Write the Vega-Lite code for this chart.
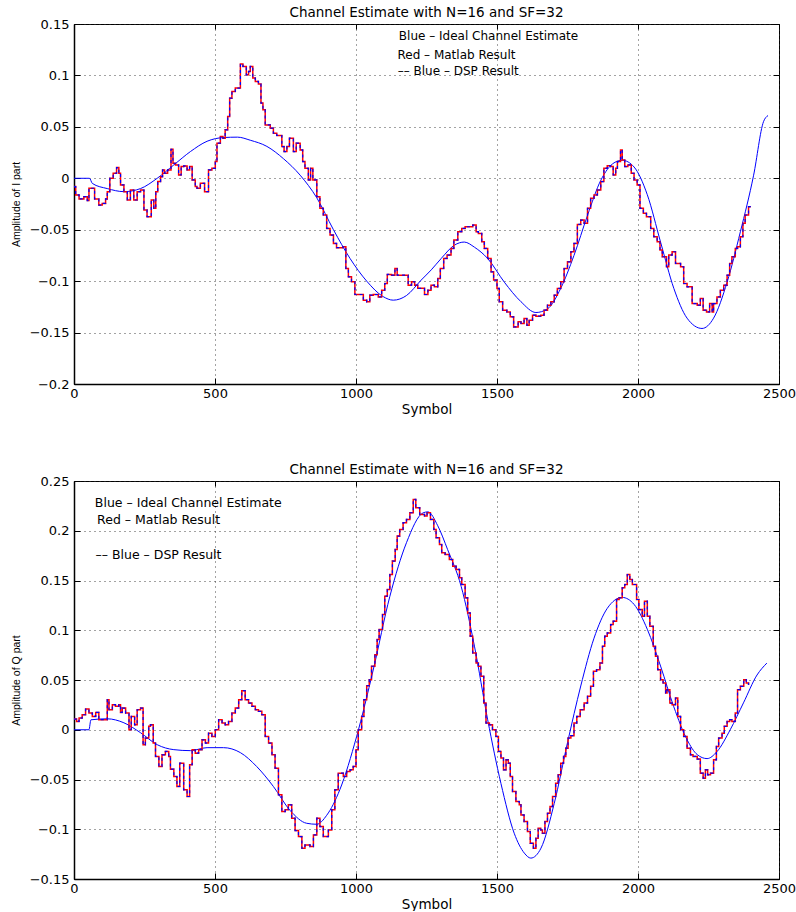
{
"$schema": "https://vega.github.io/schema/vega-lite/v6.json",
"autosize": {"type": "pad"},
"padding": {"left": 10, "top": 5, "right": 2, "bottom": 0},
"spacing": 97,
"bounds": "flush",
"config": {
  "font": "DejaVu Sans",
  "view": {"stroke": "black", "strokeWidth": 1},
  "axis": {"labelColor": "black", "titleColor": "black", "labelFontSize": 13, "labelFlush": false, "labelOverlap": false, "domainColor": "black", "tickColor": "black", "titleFontWeight": "normal"},
  "title": {"fontSize": 13.5, "fontWeight": "normal", "color": "black", "offset": -1}
},
"datasets": {
"topIdeal": [{"x":0,"y":0},{"x":55,"y":0},{"x":65,"y":-0.005},{"x":118,"y":-0.01},{"x":177,"y":-0.013},{"x":236,"y":-0.01},{"x":295,"y":0},{"x":354,"y":0.013},{"x":413,"y":0.026},{"x":472,"y":0.036},{"x":530,"y":0.0396},{"x":580,"y":0.04},{"x":625,"y":0.037},{"x":684,"y":0.031},{"x":743,"y":0.019},{"x":802,"y":0.003},{"x":861,"y":-0.019},{"x":920,"y":-0.05},{"x":979,"y":-0.078},{"x":1038,"y":-0.1},{"x":1096,"y":-0.115},{"x":1132,"y":-0.1185},{"x":1179,"y":-0.114},{"x":1231,"y":-0.099},{"x":1267,"y":-0.089},{"x":1302,"y":-0.078},{"x":1349,"y":-0.065},{"x":1384,"y":-0.062},{"x":1420,"y":-0.067},{"x":1467,"y":-0.078},{"x":1526,"y":-0.101},{"x":1585,"y":-0.12},{"x":1638,"y":-0.1305},{"x":1679,"y":-0.127},{"x":1726,"y":-0.107},{"x":1773,"y":-0.075},{"x":1821,"y":-0.036},{"x":1868,"y":-0.002},{"x":1915,"y":0.015},{"x":1944,"y":0.0175},{"x":1986,"y":0.011},{"x":2033,"y":-0.016},{"x":2080,"y":-0.062},{"x":2127,"y":-0.107},{"x":2174,"y":-0.136},{"x":2227,"y":-0.146},{"x":2268,"y":-0.136},{"x":2316,"y":-0.101},{"x":2363,"y":-0.052},{"x":2410,"y":0.003},{"x":2445,"y":0.055},{"x":2461,"y":0.061}],
"topStep": [{"x":0,"y":-0.0081},{"x":6,"y":-0.0162},{"x":18,"y":-0.0201},{"x":35,"y":-0.0179},{"x":47,"y":-0.0217},{"x":53,"y":-0.0097},{"x":73,"y":-0.0201},{"x":88,"y":-0.026},{"x":100,"y":-0.0244},{"x":112,"y":-0.0201},{"x":118,"y":-0.013},{"x":127,"y":0},{"x":139,"y":0.0049},{"x":151,"y":0.0104},{"x":159,"y":0.0049},{"x":165,"y":-0.0065},{"x":177,"y":-0.013},{"x":189,"y":-0.0211},{"x":200,"y":-0.0114},{"x":212,"y":-0.0211},{"x":224,"y":-0.013},{"x":236,"y":-0.0114},{"x":248,"y":-0.0308},{"x":259,"y":-0.0373},{"x":274,"y":-0.0211},{"x":283,"y":-0.0292},{"x":290,"y":-0.013},{"x":297,"y":-0.0032},{"x":307,"y":0.0016},{"x":314,"y":0.0081},{"x":321,"y":0.0049},{"x":332,"y":0.0081},{"x":344,"y":0.0282},{"x":351,"y":0.0146},{"x":360,"y":0.013},{"x":371,"y":0.0032},{"x":380,"y":0.0114},{"x":389,"y":0.012},{"x":401,"y":0.0081},{"x":410,"y":0.0114},{"x":419,"y":-0.0016},{"x":430,"y":-0.0081},{"x":436,"y":-0.0097},{"x":448,"y":-0.0049},{"x":463,"y":-0.013},{"x":477,"y":0.0081},{"x":489,"y":0.0097},{"x":501,"y":0.0162},{"x":507,"y":0.0341},{"x":519,"y":0.0406},{"x":528,"y":0.039},{"x":536,"y":0.0471},{"x":545,"y":0.0601},{"x":552,"y":0.0779},{"x":560,"y":0.0844},{"x":572,"y":0.0877},{"x":590,"y":0.111},{"x":599,"y":0.1088},{"x":611,"y":0.1006},{"x":619,"y":0.1039},{"x":625,"y":0.1088},{"x":634,"y":0.0974},{"x":643,"y":0.0942},{"x":654,"y":0.0916},{"x":663,"y":0.0731},{"x":670,"y":0.0666},{"x":678,"y":0.0519},{"x":696,"y":0.0487},{"x":707,"y":0.0438},{"x":719,"y":0.0416},{"x":737,"y":0.0308},{"x":745,"y":0.026},{"x":755,"y":0.0308},{"x":764,"y":0.039},{"x":778,"y":0.026},{"x":788,"y":0.0341},{"x":802,"y":0.0276},{"x":811,"y":0.0162},{"x":819,"y":0.0097},{"x":831,"y":-0.0016},{"x":839,"y":0.0097},{"x":847,"y":-0.0016},{"x":861,"y":-0.0179},{"x":872,"y":-0.0292},{"x":884,"y":-0.0357},{"x":896,"y":-0.0487},{"x":908,"y":-0.0552},{"x":920,"y":-0.0633},{"x":931,"y":-0.0675},{"x":953,"y":-0.0666},{"x":964,"y":-0.0877},{"x":973,"y":-0.0958},{"x":984,"y":-0.1006},{"x":996,"y":-0.113},{"x":1026,"y":-0.1185},{"x":1038,"y":-0.1201},{"x":1049,"y":-0.1136},{"x":1061,"y":-0.113},{"x":1079,"y":-0.1153},{"x":1091,"y":-0.1088},{"x":1102,"y":-0.1023},{"x":1111,"y":-0.0935},{"x":1126,"y":-0.0942},{"x":1138,"y":-0.0877},{"x":1146,"y":-0.0942},{"x":1185,"y":-0.1039},{"x":1197,"y":-0.1006},{"x":1208,"y":-0.1039},{"x":1219,"y":-0.107},{"x":1243,"y":-0.113},{"x":1255,"y":-0.1088},{"x":1266,"y":-0.1039},{"x":1278,"y":-0.1055},{"x":1290,"y":-0.0974},{"x":1299,"y":-0.0877},{"x":1311,"y":-0.0779},{"x":1323,"y":-0.0747},{"x":1337,"y":-0.0682},{"x":1347,"y":-0.0601},{"x":1361,"y":-0.0519},{"x":1375,"y":-0.0487},{"x":1387,"y":-0.0471},{"x":1414,"y":-0.0455},{"x":1426,"y":-0.0519},{"x":1434,"y":-0.0536},{"x":1446,"y":-0.0617},{"x":1455,"y":-0.0682},{"x":1467,"y":-0.0779},{"x":1479,"y":-0.0909},{"x":1488,"y":-0.099},{"x":1500,"y":-0.1071},{"x":1508,"y":-0.1201},{"x":1520,"y":-0.1282},{"x":1535,"y":-0.1299},{"x":1547,"y":-0.1347},{"x":1559,"y":-0.1445},{"x":1575,"y":-0.1396},{"x":1585,"y":-0.1412},{"x":1596,"y":-0.1364},{"x":1606,"y":-0.1429},{"x":1614,"y":-0.138},{"x":1626,"y":-0.1331},{"x":1638,"y":-0.1341},{"x":1655,"y":-0.1331},{"x":1667,"y":-0.1282},{"x":1679,"y":-0.1234},{"x":1691,"y":-0.1201},{"x":1703,"y":-0.1136},{"x":1714,"y":-0.1071},{"x":1726,"y":-0.1006},{"x":1738,"y":-0.0877},{"x":1750,"y":-0.0812},{"x":1762,"y":-0.0714},{"x":1773,"y":-0.0633},{"x":1785,"y":-0.0449},{"x":1797,"y":-0.0406},{"x":1809,"y":-0.0438},{"x":1821,"y":-0.0292},{"x":1832,"y":-0.0195},{"x":1844,"y":-0.0162},{"x":1856,"y":-0.0114},{"x":1868,"y":-0.0032},{"x":1879,"y":0.0097},{"x":1891,"y":0.0123},{"x":1903,"y":0.0114},{"x":1912,"y":0.0032},{"x":1921,"y":0.0097},{"x":1927,"y":0.0162},{"x":1938,"y":0.0276},{"x":1944,"y":0.0178},{"x":1953,"y":0.0114},{"x":1964,"y":0.013},{"x":1976,"y":0.0049},{"x":1986,"y":-0.0016},{"x":1997,"y":-0.0065},{"x":2007,"y":-0.0292},{"x":2019,"y":-0.0341},{"x":2030,"y":-0.0373},{"x":2045,"y":-0.0487},{"x":2056,"y":-0.0568},{"x":2068,"y":-0.0617},{"x":2078,"y":-0.0698},{"x":2086,"y":-0.0763},{"x":2101,"y":-0.086},{"x":2109,"y":-0.0747},{"x":2121,"y":-0.0714},{"x":2133,"y":-0.0828},{"x":2151,"y":-0.086},{"x":2162,"y":-0.1023},{"x":2174,"y":-0.1055},{"x":2192,"y":-0.1218},{"x":2210,"y":-0.1234},{"x":2221,"y":-0.1169},{"x":2231,"y":-0.1282},{"x":2243,"y":-0.1299},{"x":2254,"y":-0.1218},{"x":2263,"y":-0.1299},{"x":2268,"y":-0.1218},{"x":2280,"y":-0.1153},{"x":2292,"y":-0.1088},{"x":2304,"y":-0.1039},{"x":2316,"y":-0.0942},{"x":2325,"y":-0.0828},{"x":2333,"y":-0.0763},{"x":2345,"y":-0.0682},{"x":2353,"y":-0.0666},{"x":2363,"y":-0.0568},{"x":2372,"y":-0.0438},{"x":2380,"y":-0.0357},{"x":2392,"y":-0.0276},{"x":2400,"y":-0.0276}],
"topLegend": [{"x":1152,"y":0.1383,"label":"Blue – Ideal Channel Estimate"},{"x":1147,"y":0.1195,"label":"Red – Matlab Result"},{"x":1148,"y":0.1045,"label":"–– Blue – DSP Result"}],
"botIdeal": [{"x":0,"y":0},{"x":53,"y":0},{"x":60,"y":0.01},{"x":118,"y":0.011},{"x":177,"y":0.007},{"x":236,"y":-0.003},{"x":295,"y":-0.015},{"x":354,"y":-0.02},{"x":413,"y":-0.021},{"x":472,"y":-0.018},{"x":530,"y":-0.018},{"x":590,"y":-0.023},{"x":648,"y":-0.037},{"x":707,"y":-0.057},{"x":766,"y":-0.081},{"x":825,"y":-0.094},{"x":861,"y":-0.095},{"x":896,"y":-0.086},{"x":943,"y":-0.06},{"x":1002,"y":-0.007},{"x":1061,"y":0.06},{"x":1120,"y":0.134},{"x":1179,"y":0.188},{"x":1238,"y":0.218},{"x":1255,"y":0.219},{"x":1290,"y":0.205},{"x":1325,"y":0.181},{"x":1373,"y":0.144},{"x":1420,"y":0.084},{"x":1467,"y":0.01},{"x":1514,"y":-0.054},{"x":1561,"y":-0.104},{"x":1597,"y":-0.124},{"x":1620,"y":-0.129},{"x":1656,"y":-0.119},{"x":1703,"y":-0.074},{"x":1750,"y":-0.013},{"x":1797,"y":0.044},{"x":1844,"y":0.092},{"x":1891,"y":0.122},{"x":1944,"y":0.133},{"x":1986,"y":0.126},{"x":2033,"y":0.101},{"x":2080,"y":0.064},{"x":2127,"y":0.023},{"x":2174,"y":-0.01},{"x":2210,"y":-0.025},{"x":2245,"y":-0.029},{"x":2280,"y":-0.022},{"x":2327,"y":0},{"x":2374,"y":0.027},{"x":2422,"y":0.055},{"x":2457,"y":0.067}],
"botStep": [{"x":0,"y":0.0107},{"x":9,"y":0.0084},{"x":18,"y":0.0117},{"x":29,"y":0.0151},{"x":41,"y":0.0208},{"x":53,"y":0.0168},{"x":65,"y":0.0134},{"x":77,"y":0.0174},{"x":88,"y":0.0101},{"x":118,"y":0.0302},{"x":124,"y":0.0201},{"x":136,"y":0.0252},{"x":147,"y":0.0235},{"x":159,"y":0.0252},{"x":165,"y":0.0174},{"x":171,"y":0.0218},{"x":183,"y":0.0168},{"x":195,"y":0},{"x":203,"y":0.0134},{"x":215,"y":0.005},{"x":224,"y":0.0201},{"x":236,"y":0.0218},{"x":245,"y":-0.0151},{"x":253,"y":-0.0084},{"x":265,"y":0.0034},{"x":271,"y":0.005},{"x":281,"y":-0.0134},{"x":289,"y":-0.0268},{"x":301,"y":-0.0369},{"x":312,"y":-0.0252},{"x":324,"y":-0.0218},{"x":336,"y":-0.0268},{"x":342,"y":-0.0396},{"x":354,"y":-0.047},{"x":365,"y":-0.057},{"x":375,"y":-0.0336},{"x":389,"y":-0.0604},{"x":401,"y":-0.0671},{"x":410,"y":-0.0352},{"x":419,"y":-0.0201},{"x":430,"y":-0.0235},{"x":442,"y":-0.0201},{"x":454,"y":-0.0101},{"x":466,"y":-0.0134},{"x":477,"y":-0.0034},{"x":489,"y":-0.0067},{"x":501,"y":0},{"x":513,"y":0.0101},{"x":525,"y":0.0067},{"x":536,"y":0.005},{"x":548,"y":0.0084},{"x":560,"y":0.0168},{"x":572,"y":0.0218},{"x":584,"y":0.0302},{"x":595,"y":0.0393},{"x":607,"y":0.0302},{"x":619,"y":0.0268},{"x":631,"y":0.0235},{"x":643,"y":0.0201},{"x":654,"y":0.0185},{"x":666,"y":0.0151},{"x":678,"y":-0.0067},{"x":690,"y":-0.0134},{"x":702,"y":-0.0252},{"x":713,"y":-0.0386},{"x":725,"y":-0.0654},{"x":737,"y":-0.0822},{"x":749,"y":-0.0805},{"x":760,"y":-0.0755},{"x":772,"y":-0.0889},{"x":784,"y":-0.1013},{"x":796,"y":-0.1074},{"x":808,"y":-0.1191},{"x":819,"y":-0.1158},{"x":837,"y":-0.1174},{"x":849,"y":-0.1057},{"x":861,"y":-0.0889},{"x":872,"y":-0.0973},{"x":884,"y":-0.1074},{"x":902,"y":-0.1007},{"x":914,"y":-0.0805},{"x":925,"y":-0.0604},{"x":937,"y":-0.0436},{"x":955,"y":-0.047},{"x":967,"y":-0.0419},{"x":979,"y":-0.0403},{"x":990,"y":-0.0369},{"x":1000,"y":-0.0201},{"x":1008,"y":0},{"x":1020,"y":0.0134},{"x":1028,"y":0.0302},{"x":1038,"y":0.0443},{"x":1047,"y":0.0503},{"x":1055,"y":0.0638},{"x":1067,"y":0.0755},{"x":1075,"y":0.0906},{"x":1082,"y":0.1007},{"x":1094,"y":0.1158},{"x":1102,"y":0.1342},{"x":1111,"y":0.1409},{"x":1120,"y":0.156},{"x":1129,"y":0.1695},{"x":1139,"y":0.1812},{"x":1146,"y":0.1946},{"x":1155,"y":0.2013},{"x":1167,"y":0.2081},{"x":1179,"y":0.2114},{"x":1191,"y":0.2181},{"x":1203,"y":0.2315},{"x":1212,"y":0.2232},{"x":1226,"y":0.2164},{"x":1243,"y":0.2148},{"x":1252,"y":0.2181},{"x":1264,"y":0.2114},{"x":1276,"y":0.2013},{"x":1284,"y":0.193},{"x":1296,"y":0.1862},{"x":1304,"y":0.1779},{"x":1316,"y":0.1762},{"x":1331,"y":0.1711},{"x":1343,"y":0.1644},{"x":1355,"y":0.1611},{"x":1367,"y":0.1527},{"x":1375,"y":0.146},{"x":1387,"y":0.1326},{"x":1396,"y":0.1174},{"x":1405,"y":0.094},{"x":1414,"y":0.0772},{"x":1426,"y":0.0671},{"x":1434,"y":0.0638},{"x":1443,"y":0.0537},{"x":1453,"y":0.0268},{"x":1461,"y":0.0067},{"x":1473,"y":0.005},{"x":1484,"y":0},{"x":1496,"y":-0.0067},{"x":1505,"y":-0.0218},{"x":1514,"y":-0.0285},{"x":1523,"y":-0.0403},{"x":1532,"y":-0.0302},{"x":1540,"y":-0.0336},{"x":1547,"y":-0.047},{"x":1555,"y":-0.0621},{"x":1567,"y":-0.0721},{"x":1579,"y":-0.0755},{"x":1585,"y":-0.0856},{"x":1596,"y":-0.0923},{"x":1608,"y":-0.1023},{"x":1618,"y":-0.1141},{"x":1629,"y":-0.1191},{"x":1638,"y":-0.1091},{"x":1646,"y":-0.099},{"x":1655,"y":-0.1007},{"x":1661,"y":-0.104},{"x":1670,"y":-0.0923},{"x":1679,"y":-0.0839},{"x":1688,"y":-0.0772},{"x":1697,"y":-0.0671},{"x":1708,"y":-0.0537},{"x":1717,"y":-0.0453},{"x":1726,"y":-0.0336},{"x":1736,"y":-0.0268},{"x":1744,"y":-0.0185},{"x":1752,"y":-0.0084},{"x":1762,"y":-0.006},{"x":1773,"y":0.0067},{"x":1783,"y":0.0134},{"x":1795,"y":0.0201},{"x":1809,"y":0.0268},{"x":1821,"y":0.0336},{"x":1832,"y":0.0436},{"x":1842,"y":0.0587},{"x":1853,"y":0.0604},{"x":1865,"y":0.0671},{"x":1874,"y":0.0839},{"x":1882,"y":0.094},{"x":1891,"y":0.0973},{"x":1903,"y":0.1057},{"x":1912,"y":0.1091},{"x":1924,"y":0.1309},{"x":1933,"y":0.1326},{"x":1944,"y":0.1426},{"x":1953,"y":0.146},{"x":1962,"y":0.156},{"x":1971,"y":0.151},{"x":1980,"y":0.146},{"x":1995,"y":0.1309},{"x":2003,"y":0.1208},{"x":2015,"y":0.1141},{"x":2023,"y":0.1292},{"x":2033,"y":0.1141},{"x":2042,"y":0.104},{"x":2054,"y":0.0839},{"x":2062,"y":0.0738},{"x":2070,"y":0.0604},{"x":2080,"y":0.0503},{"x":2089,"y":0.047},{"x":2098,"y":0.0369},{"x":2103,"y":0.0403},{"x":2113,"y":0.0268},{"x":2121,"y":0.0252},{"x":2133,"y":0.0319},{"x":2141,"y":0.0134},{"x":2151,"y":0},{"x":2162,"y":-0.0067},{"x":2174,"y":-0.0185},{"x":2186,"y":-0.0252},{"x":2195,"y":-0.0268},{"x":2210,"y":-0.0295},{"x":2221,"y":-0.0436},{"x":2231,"y":-0.0487},{"x":2239,"y":-0.0403},{"x":2247,"y":-0.0453},{"x":2257,"y":-0.0436},{"x":2268,"y":-0.0302},{"x":2278,"y":-0.0168},{"x":2286,"y":-0.0084},{"x":2298,"y":-0.0034},{"x":2306,"y":0.0034},{"x":2316,"y":0.0084},{"x":2325,"y":0.0101},{"x":2333,"y":0.0084},{"x":2345,"y":0.0168},{"x":2353,"y":0.0403},{"x":2363,"y":0.0436},{"x":2375,"y":0.0503},{"x":2384,"y":0.047},{"x":2392,"y":0.045}],
"botLegend": [{"x":74,"y":0.2283,"label":"Blue – Ideal Channel Estimate"},{"x":82,"y":0.2108,"label":"Red – Matlab Result"},{"x":76,"y":0.1753,"label":"–– Blue – DSP Result"}]
},
"vconcat": [
{
 "width": 705, "height": 360,
 "title": {"text": "Channel Estimate with N=16 and SF=32"},
 "resolve": {"axis": {"x": "independent", "y": "independent"}},
 "layer": [
  {"data": {"name": "topIdeal"},
   "mark": {"type": "line", "color": "#0000ff", "strokeWidth": 1, "interpolate": "monotone"},
   "encoding": {
    "x": {"field": "x", "type": "quantitative", "scale": {"domain": [0, 2500], "nice": false, "zero": false},
      "axis": {"orient": "bottom", "values": [0,500,1000,1500,2000,2500], "format": "d", "grid": true, "gridDash": [1,4], "gridColor": "#333", "gridOpacity": 0.9, "tickSize": -6, "domainWidth": 1.5, "labelPadding": 9, "title": "Symbol", "titleFontSize": 13.5, "titlePadding": 2}},
    "y": {"field": "y", "type": "quantitative", "scale": {"domain": [-0.2, 0.15], "nice": false, "zero": false},
      "axis": {"orient": "left", "values": [-0.2,-0.15,-0.1,-0.05,0,0.05,0.1,0.15], "format": ".2~f", "grid": true, "gridDash": [1,4], "gridColor": "#333", "gridOpacity": 0.9, "tickSize": -6, "domainWidth": 1.5, "labelPadding": 11, "title": "Amplitude of I part", "titleFont": "Liberation Sans", "titleFontSize": 10.5, "titlePadding": 8}}
   }},
  {"data": {"name": "topStep"},
   "mark": {"type": "line", "color": "#ff0000", "strokeWidth": 1.5, "interpolate": "step-after"},
   "encoding": {
    "x": {"field": "x", "type": "quantitative", "axis": {"orient": "top", "values": [0,500,1000,1500,2000,2500], "labels": false, "grid": false, "tickSize": -5, "domain": false, "title": null}},
    "y": {"field": "y", "type": "quantitative", "axis": {"orient": "right", "values": [-0.2,-0.15,-0.1,-0.05,0,0.05,0.1,0.15], "labels": false, "grid": false, "tickSize": -6, "domain": false, "title": null}}
   }},
  {"data": {"name": "topStep"},
   "mark": {"type": "line", "color": "#0000ff", "strokeWidth": 1.2, "strokeDash": [3, 3], "interpolate": "step-after"},
   "encoding": {
    "x": {"field": "x", "type": "quantitative", "axis": null},
    "y": {"field": "y", "type": "quantitative", "axis": null}
   }},
  {"data": {"name": "topLegend"},
   "mark": {"type": "text", "align": "left", "baseline": "middle", "fontSize": 12, "font": "DejaVu Sans", "color": "black"},
   "encoding": {
    "x": {"field": "x", "type": "quantitative", "axis": null},
    "y": {"field": "y", "type": "quantitative", "axis": null},
    "text": {"field": "label"}
   }}
 ]
},
{
 "width": 705, "height": 398,
 "title": {"text": "Channel Estimate with N=16 and SF=32"},
 "resolve": {"axis": {"x": "independent", "y": "independent"}},
 "layer": [
  {"data": {"name": "botIdeal"},
   "mark": {"type": "line", "color": "#0000ff", "strokeWidth": 1, "interpolate": "monotone"},
   "encoding": {
    "x": {"field": "x", "type": "quantitative", "scale": {"domain": [0, 2500], "nice": false, "zero": false},
      "axis": {"orient": "bottom", "values": [0,500,1000,1500,2000,2500], "format": "d", "grid": true, "gridDash": [1,4], "gridColor": "#333", "gridOpacity": 0.9, "tickSize": -6, "domainWidth": 1.5, "labelPadding": 9, "title": "Symbol", "titleFontSize": 13.5, "titlePadding": 2}},
    "y": {"field": "y", "type": "quantitative", "scale": {"domain": [-0.15, 0.25], "nice": false, "zero": false},
      "axis": {"orient": "left", "values": [-0.15,-0.1,-0.05,0,0.05,0.1,0.15,0.2,0.25], "format": ".2~f", "grid": true, "gridDash": [1,4], "gridColor": "#333", "gridOpacity": 0.9, "tickSize": -6, "domainWidth": 1.5, "labelPadding": 11, "title": "Amplitude of Q part", "titleFont": "Liberation Sans", "titleFontSize": 10.5, "titlePadding": 8}}
   }},
  {"data": {"name": "botStep"},
   "mark": {"type": "line", "color": "#ff0000", "strokeWidth": 1.5, "interpolate": "step-after"},
   "encoding": {
    "x": {"field": "x", "type": "quantitative", "axis": {"orient": "top", "values": [0,500,1000,1500,2000,2500], "labels": false, "grid": false, "tickSize": -5, "domain": false, "title": null}},
    "y": {"field": "y", "type": "quantitative", "axis": {"orient": "right", "values": [-0.15,-0.1,-0.05,0,0.05,0.1,0.15,0.2,0.25], "labels": false, "grid": false, "tickSize": -6, "domain": false, "title": null}}
   }},
  {"data": {"name": "botStep"},
   "mark": {"type": "line", "color": "#0000ff", "strokeWidth": 1.2, "strokeDash": [3, 3], "interpolate": "step-after"},
   "encoding": {
    "x": {"field": "x", "type": "quantitative", "axis": null},
    "y": {"field": "y", "type": "quantitative", "axis": null}
   }},
  {"data": {"name": "botLegend"},
   "mark": {"type": "text", "align": "left", "baseline": "middle", "fontSize": 12.5, "font": "DejaVu Sans", "color": "black"},
   "encoding": {
    "x": {"field": "x", "type": "quantitative", "axis": null},
    "y": {"field": "y", "type": "quantitative", "axis": null},
    "text": {"field": "label"}
   }}
 ]
}
]
}
